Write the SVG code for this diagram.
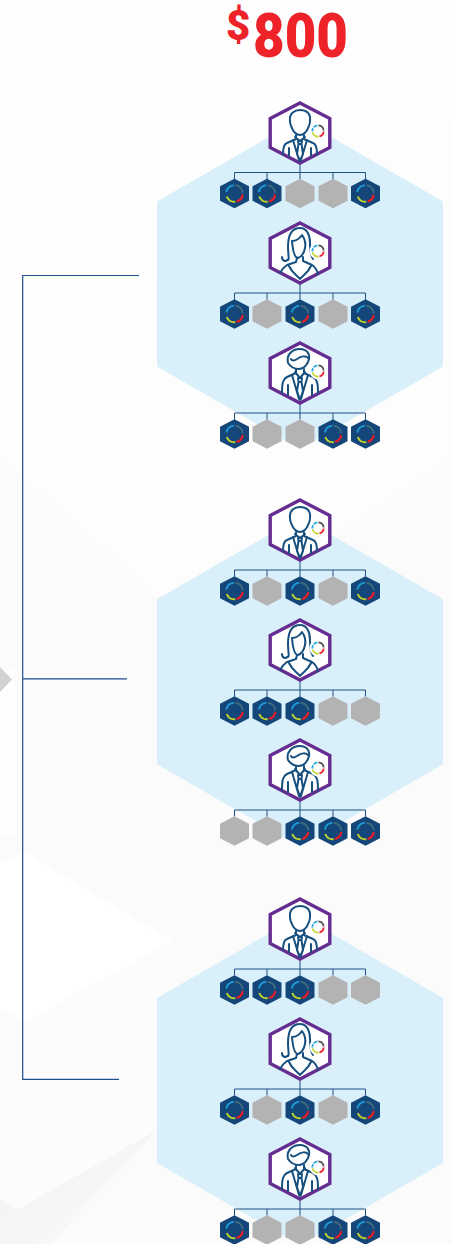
<svg xmlns="http://www.w3.org/2000/svg" width="452" height="1244" viewBox="0 0 452 1244">
<style>
.big{fill:#d9f0fa}
.conn{fill:none;stroke:#1f4e82;stroke-width:1}
.bracket{fill:none;stroke:#1d4f91;stroke-width:1.2}
.frame{fill:#fff;stroke:#662d91;stroke-width:3.400}
.ln{fill:none;stroke:#17507f;stroke-width:2;stroke-linejoin:round;stroke-linecap:round}
.amount{font-family:"Roboto","Liberation Sans",sans-serif;font-weight:900;fill:#ee2229}
</style>
<defs>
<linearGradient id="shade" x1="0" y1="0" x2="1" y2="1"><stop offset="0" stop-color="#f2f2f2"/><stop offset="1" stop-color="#fafafa"/></linearGradient>
<g id="ring">
<circle r="8.500" fill="#fff"/>
<path d="M-4.300-3.600A5.600 5.600 0 0 1-.5-5.600" fill="none" stroke="#29abe2" stroke-width="1.800"/>
<path d="M.5-5.600A5.600 5.600 0 0 1 5.600-.5" fill="none" stroke="#555" stroke-width="1.800"/>
<path d="M5.600.5A5.600 5.600 0 0 1 1.500 5.400" fill="none" stroke="#ed1c24" stroke-width="1.800"/>
<path d="M.6 5.600A5.600 5.600 0 0 1-5.400 1.400" fill="none" stroke="#c4d42b" stroke-width="1.800"/>
<path d="M-5.600.5A5.600 5.600 0 0 1-4.900-2.800" fill="none" stroke="#29abe2" stroke-width="1.800"/>
</g>
<g id="b"><polygon points="0,-14.700 14.500,-7.300 14.500,7.300 0,14.700 -14.500,7.300 -14.500,-7.300" fill="#14467a"/>
<g fill="none" stroke-width="2"><path d="M-8.200-1.500A8.300 8.300 0 0 1-.7-8.300" stroke="#1c9ad6"/><path d="M.8-8.300A8.300 8.300 0 0 1 8.300-.6" stroke="#3f6a7c"/><path d="M8.200 1A8.300 8.300 0 0 1 2 8" stroke="#ed1c24"/><path d="M.7 8.300A8.300 8.300 0 0 1-7.700 3" stroke="#c4d42b"/></g></g>
<polygon id="g" points="0,-14.700 14.500,-7.300 14.500,7.300 0,14.700 -14.500,7.300 -14.500,-7.300" fill="#b3b3b3"/>
<path id="wires" class="conn" d="M0-31V-14.500M-65.500-14.500V-21H65.500V-14.500M-33-14.500V-21M33-14.500V-21"/>
<polygon id="hexframe" class="frame" points="0,-30 29.800,-14.500 29.800,14.500 0,30 -29.800,14.500 -29.800,-14.500"/>
<g id="man1"><use href="#hexframe"/>
<path class="ln" d="M-10-12C-11-20-5-23 0-23C6-23 11-20 10-12C10-8 9-7 8-5C7-1 3 2 0 2C-3 2-7-1-8-5C-9-7-10-8-10-12Z"/>
<path class="ln" d="M-4 2V6L-13 10C-16 11-17 14-17 21M4 2V6L13 10C16 11 17 14 17 21M-5 4L0 8L5 4M-2 8H2L1.500 11H-1.500ZM-1.500 11L-3 21L0 28L3 21L1.500 11M-7 7L-1 27M7 7L1 27M-11 15V23M11 15V23"/>
<use href="#ring" x="18" y="-2"/></g>
<g id="woman"><use href="#hexframe"/>
<path class="ln" d="M-18 4C-18 8-14 9-13 7C-10 8-12 2-12-6C-12-18-8-25 0-25C7-25 10-18 10-10C10-3 11 3 13 6"/>
<path class="ln" d="M-8-12C-4-12 0-15 2-18C5-14 6-10 5-5C4 0 1 4-2 5C-5 5-7 0-8-12ZM-3 5L-4 9L-13 12C-16 14-18 16-20 20M3 4V8L12 12C15 14 17 17 18 21M-11 13C-8 20-3 22 0 26C3 22 8 20 11 13"/>
<use href="#ring" x="18" y="-2"/></g>
<g id="man2"><use href="#hexframe"/>
<path class="ln" d="M-12-10C-14-18-8-24 0-24C7-24 10-19 9-14C6-18 1-17-3-14C-6-12-8-12-9-14M-12-10C-10-7-6-4-1-4C4-4 8-9 9-14"/>
<path class="ln" d="M-4-4V0L-13 4C-17 6-18 10-18 20M4-4V0L13 4C17 6 18 10 18 20M-5-1L0 5L5-1M-2 5H2L1.500 9H-1.500ZM-1.500 9L-3 18L0 27L3 18L1.500 9M-8 2L-1 26M8 2L1 26M-12 12V22M12 12V22"/>
<use href="#ring" x="18" y="-2"/></g>
<polygon id="bighex" class="big" points="0,-165 143,-82.500 143,82.500 0,165 -143,82.500 -143,-82.500"/>
</defs>
<rect id="background" width="452" height="1244" fill="#fbfbfb"/>
<g id="backdrop">
<path d="M0 0H452V460L300 560L157 597L0 460V133L157 275Z" fill="#fdfdfd"/>
<path d="M0 0H452V120L300 130L157 275L0 133Z" fill="#fefefe"/>
<path d="M0 670H15V835H0Z" fill="#fefefe"/>
<path d="M0 862L25 852L172 941L25 1022L0 1008Z" fill="#fff"/>
<path d="M17 1026L172 941V1121L17 1210Z" fill="#fcfcfc"/>
<path d="M157 1130L17 1210L0 1200V1244H50Z" fill="url(#shade)"/>
<polygon points="0,667 12,679.500 0,692" fill="#d2d2d2"/>
</g>
<g id="price"><text class="amount" x="226" y="40" font-size="42">$</text><text class="amount" x="253" y="57" font-size="62" textLength="95" lengthAdjust="spacingAndGlyphs">800</text></g>
<g id="brackets">
<path class="bracket" d="M139 275.500H22.700V1079.300H119M22.700 678.900H127"/>
</g>
<g id="region-1"><use href="#bighex" x="300" y="284"/></g>
<g id="region-2"><use href="#bighex" x="300" y="681.700"/></g>
<g id="region-3"><use href="#bighex" x="300" y="1080.500"/></g>
<g id="connectors">
<use href="#wires" x="300" y="193.500"/><use href="#wires" x="300" y="314"/><use href="#wires" x="300" y="434"/>
<use href="#wires" x="300" y="591"/><use href="#wires" x="300" y="711"/><use href="#wires" x="300" y="831"/>
<use href="#wires" x="300" y="990"/><use href="#wires" x="300" y="1110"/><use href="#wires" x="300" y="1230"/>
</g>
<g id="person-1-1"><use href="#man1" x="300" y="133"/><use href="#b" x="234.500" y="193.500"/><use href="#b" x="267" y="193.500"/><use href="#g" x="300" y="193.500"/><use href="#g" x="333" y="193.500"/><use href="#b" x="365.500" y="193.500"/></g>
<g id="person-1-2"><use href="#woman" x="300" y="253"/><use href="#b" x="234.500" y="314"/><use href="#g" x="267" y="314"/><use href="#b" x="300" y="314"/><use href="#g" x="333" y="314"/><use href="#b" x="365.500" y="314"/></g>
<g id="person-1-3"><use href="#man2" x="300" y="373"/><use href="#b" x="234.500" y="434"/><use href="#g" x="267" y="434"/><use href="#g" x="300" y="434"/><use href="#b" x="333" y="434"/><use href="#b" x="365.500" y="434"/></g>
<g id="person-2-1"><use href="#man1" x="300" y="530"/><use href="#b" x="234.500" y="591"/><use href="#g" x="267" y="591"/><use href="#b" x="300" y="591"/><use href="#g" x="333" y="591"/><use href="#b" x="365.500" y="591"/></g>
<g id="person-2-2"><use href="#woman" x="300" y="650"/><use href="#b" x="234.500" y="711"/><use href="#b" x="267" y="711"/><use href="#b" x="300" y="711"/><use href="#g" x="333" y="711"/><use href="#g" x="365.500" y="711"/></g>
<g id="person-2-3"><use href="#man2" x="300" y="770"/><use href="#g" x="234.500" y="831"/><use href="#g" x="267" y="831"/><use href="#b" x="300" y="831"/><use href="#b" x="333" y="831"/><use href="#b" x="365.500" y="831"/></g>
<g id="person-3-1"><use href="#man1" x="300" y="929"/><use href="#b" x="234.500" y="990"/><use href="#b" x="267" y="990"/><use href="#b" x="300" y="990"/><use href="#g" x="333" y="990"/><use href="#g" x="365.500" y="990"/></g>
<g id="person-3-2"><use href="#woman" x="300" y="1049"/><use href="#b" x="234.500" y="1110"/><use href="#g" x="267" y="1110"/><use href="#b" x="300" y="1110"/><use href="#g" x="333" y="1110"/><use href="#b" x="365.500" y="1110"/></g>
<g id="person-3-3"><use href="#man2" x="300" y="1169"/><use href="#b" x="234.500" y="1230"/><use href="#g" x="267" y="1230"/><use href="#g" x="300" y="1230"/><use href="#b" x="333" y="1230"/><use href="#b" x="365.500" y="1230"/></g>
</svg>
